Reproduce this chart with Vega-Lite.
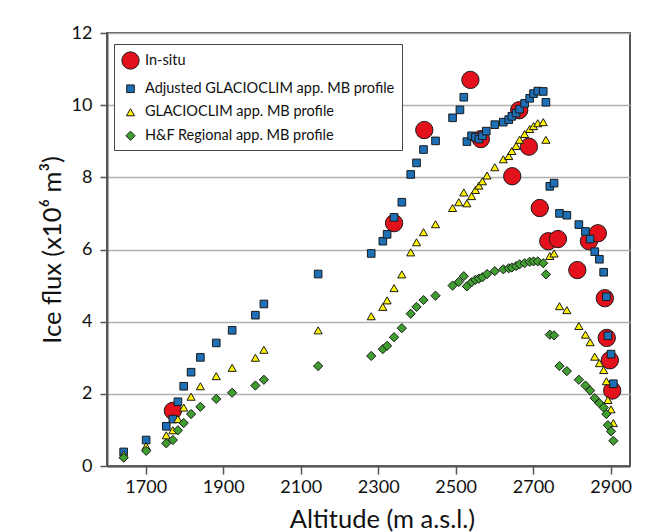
{
  "$schema": "https://vega.github.io/schema/vega-lite/v6.json",
  "autosize": {"type": "none"},
  "padding": {"left": 107, "top": 33, "right": 25, "bottom": 66},
  "width": 523,
  "height": 433,
  "background": "white",
  "config": {
    "font": "Lato",
    "view": {"stroke": "#555555", "strokeWidth": 2},
    "axis": {"labelFont": "Lato", "titleFont": "Lato", "labelColor": "#111111", "titleColor": "#111111", "domainColor": "#555555", "domainWidth": 2, "tickColor": "#555555", "tickWidth": 1.5, "gridColor": "#b0b0b0", "gridWidth": 1.5}
  },
  "data": {
    "values": [
      {"s": "In-situ", "x": 1770, "y": 1.53},
      {"s": "In-situ", "x": 2341, "y": 6.73},
      {"s": "In-situ", "x": 2419, "y": 9.31},
      {"s": "In-situ", "x": 2538, "y": 10.7},
      {"s": "In-situ", "x": 2565, "y": 9.06},
      {"s": "In-situ", "x": 2664, "y": 9.86},
      {"s": "In-situ", "x": 2689, "y": 8.85},
      {"s": "In-situ", "x": 2646, "y": 8.03},
      {"s": "In-situ", "x": 2717, "y": 7.15},
      {"s": "In-situ", "x": 2739, "y": 6.23},
      {"s": "In-situ", "x": 2764, "y": 6.29},
      {"s": "In-situ", "x": 2814, "y": 5.43},
      {"s": "In-situ", "x": 2844, "y": 6.23},
      {"s": "In-situ", "x": 2867, "y": 6.45},
      {"s": "In-situ", "x": 2885, "y": 4.65},
      {"s": "In-situ", "x": 2890, "y": 3.55},
      {"s": "In-situ", "x": 2898, "y": 2.93},
      {"s": "In-situ", "x": 2904, "y": 2.09},

      {"s": "Adjusted GLACIOCLIM app. MB profile", "x": 1643, "y": 0.39},
      {"s": "Adjusted GLACIOCLIM app. MB profile", "x": 1701, "y": 0.72},
      {"s": "Adjusted GLACIOCLIM app. MB profile", "x": 1753, "y": 1.1},
      {"s": "Adjusted GLACIOCLIM app. MB profile", "x": 1770, "y": 1.3},
      {"s": "Adjusted GLACIOCLIM app. MB profile", "x": 1783, "y": 1.78},
      {"s": "Adjusted GLACIOCLIM app. MB profile", "x": 1798, "y": 2.21},
      {"s": "Adjusted GLACIOCLIM app. MB profile", "x": 1817, "y": 2.6},
      {"s": "Adjusted GLACIOCLIM app. MB profile", "x": 1841, "y": 3.01},
      {"s": "Adjusted GLACIOCLIM app. MB profile", "x": 1882, "y": 3.41},
      {"s": "Adjusted GLACIOCLIM app. MB profile", "x": 1923, "y": 3.76},
      {"s": "Adjusted GLACIOCLIM app. MB profile", "x": 1983, "y": 4.18},
      {"s": "Adjusted GLACIOCLIM app. MB profile", "x": 2005, "y": 4.49},
      {"s": "Adjusted GLACIOCLIM app. MB profile", "x": 2145, "y": 5.32},
      {"s": "Adjusted GLACIOCLIM app. MB profile", "x": 2282, "y": 5.89},
      {"s": "Adjusted GLACIOCLIM app. MB profile", "x": 2312, "y": 6.23},
      {"s": "Adjusted GLACIOCLIM app. MB profile", "x": 2323, "y": 6.42},
      {"s": "Adjusted GLACIOCLIM app. MB profile", "x": 2341, "y": 6.89},
      {"s": "Adjusted GLACIOCLIM app. MB profile", "x": 2361, "y": 7.31},
      {"s": "Adjusted GLACIOCLIM app. MB profile", "x": 2384, "y": 8.08},
      {"s": "Adjusted GLACIOCLIM app. MB profile", "x": 2399, "y": 8.4},
      {"s": "Adjusted GLACIOCLIM app. MB profile", "x": 2417, "y": 8.77},
      {"s": "Adjusted GLACIOCLIM app. MB profile", "x": 2448, "y": 9.01},
      {"s": "Adjusted GLACIOCLIM app. MB profile", "x": 2492, "y": 9.65},
      {"s": "Adjusted GLACIOCLIM app. MB profile", "x": 2511, "y": 9.87},
      {"s": "Adjusted GLACIOCLIM app. MB profile", "x": 2521, "y": 10.22},
      {"s": "Adjusted GLACIOCLIM app. MB profile", "x": 2529, "y": 8.99},
      {"s": "Adjusted GLACIOCLIM app. MB profile", "x": 2541, "y": 9.15},
      {"s": "Adjusted GLACIOCLIM app. MB profile", "x": 2551, "y": 9.11},
      {"s": "Adjusted GLACIOCLIM app. MB profile", "x": 2560, "y": 9.06},
      {"s": "Adjusted GLACIOCLIM app. MB profile", "x": 2569, "y": 9.15},
      {"s": "Adjusted GLACIOCLIM app. MB profile", "x": 2579, "y": 9.28},
      {"s": "Adjusted GLACIOCLIM app. MB profile", "x": 2601, "y": 9.46},
      {"s": "Adjusted GLACIOCLIM app. MB profile", "x": 2623, "y": 9.53},
      {"s": "Adjusted GLACIOCLIM app. MB profile", "x": 2637, "y": 9.6},
      {"s": "Adjusted GLACIOCLIM app. MB profile", "x": 2645, "y": 9.69},
      {"s": "Adjusted GLACIOCLIM app. MB profile", "x": 2656, "y": 9.78},
      {"s": "Adjusted GLACIOCLIM app. MB profile", "x": 2665, "y": 9.89},
      {"s": "Adjusted GLACIOCLIM app. MB profile", "x": 2678, "y": 10.05},
      {"s": "Adjusted GLACIOCLIM app. MB profile", "x": 2691, "y": 10.19},
      {"s": "Adjusted GLACIOCLIM app. MB profile", "x": 2701, "y": 10.32},
      {"s": "Adjusted GLACIOCLIM app. MB profile", "x": 2712, "y": 10.39},
      {"s": "Adjusted GLACIOCLIM app. MB profile", "x": 2726, "y": 10.38},
      {"s": "Adjusted GLACIOCLIM app. MB profile", "x": 2733, "y": 10.08},
      {"s": "Adjusted GLACIOCLIM app. MB profile", "x": 2743, "y": 7.75},
      {"s": "Adjusted GLACIOCLIM app. MB profile", "x": 2754, "y": 7.84},
      {"s": "Adjusted GLACIOCLIM app. MB profile", "x": 2768, "y": 7.0},
      {"s": "Adjusted GLACIOCLIM app. MB profile", "x": 2787, "y": 6.95},
      {"s": "Adjusted GLACIOCLIM app. MB profile", "x": 2818, "y": 6.69},
      {"s": "Adjusted GLACIOCLIM app. MB profile", "x": 2835, "y": 6.5},
      {"s": "Adjusted GLACIOCLIM app. MB profile", "x": 2847, "y": 6.29},
      {"s": "Adjusted GLACIOCLIM app. MB profile", "x": 2859, "y": 5.94},
      {"s": "Adjusted GLACIOCLIM app. MB profile", "x": 2871, "y": 5.73},
      {"s": "Adjusted GLACIOCLIM app. MB profile", "x": 2882, "y": 5.37},
      {"s": "Adjusted GLACIOCLIM app. MB profile", "x": 2889, "y": 4.69},
      {"s": "Adjusted GLACIOCLIM app. MB profile", "x": 2893, "y": 3.61},
      {"s": "Adjusted GLACIOCLIM app. MB profile", "x": 2901, "y": 3.1},
      {"s": "Adjusted GLACIOCLIM app. MB profile", "x": 2907, "y": 2.28},

      {"s": "GLACIOCLIM app. MB profile", "x": 1643, "y": 0.32},
      {"s": "GLACIOCLIM app. MB profile", "x": 1701, "y": 0.55},
      {"s": "GLACIOCLIM app. MB profile", "x": 1753, "y": 0.85},
      {"s": "GLACIOCLIM app. MB profile", "x": 1770, "y": 0.99},
      {"s": "GLACIOCLIM app. MB profile", "x": 1783, "y": 1.3},
      {"s": "GLACIOCLIM app. MB profile", "x": 1798, "y": 1.62},
      {"s": "GLACIOCLIM app. MB profile", "x": 1817, "y": 1.92},
      {"s": "GLACIOCLIM app. MB profile", "x": 1841, "y": 2.21},
      {"s": "GLACIOCLIM app. MB profile", "x": 1882, "y": 2.49},
      {"s": "GLACIOCLIM app. MB profile", "x": 1923, "y": 2.72},
      {"s": "GLACIOCLIM app. MB profile", "x": 1983, "y": 3.0},
      {"s": "GLACIOCLIM app. MB profile", "x": 2005, "y": 3.22},
      {"s": "GLACIOCLIM app. MB profile", "x": 2145, "y": 3.76},
      {"s": "GLACIOCLIM app. MB profile", "x": 2282, "y": 4.15},
      {"s": "GLACIOCLIM app. MB profile", "x": 2312, "y": 4.41},
      {"s": "GLACIOCLIM app. MB profile", "x": 2323, "y": 4.59},
      {"s": "GLACIOCLIM app. MB profile", "x": 2341, "y": 4.93},
      {"s": "GLACIOCLIM app. MB profile", "x": 2361, "y": 5.31},
      {"s": "GLACIOCLIM app. MB profile", "x": 2384, "y": 5.92},
      {"s": "GLACIOCLIM app. MB profile", "x": 2399, "y": 6.2},
      {"s": "GLACIOCLIM app. MB profile", "x": 2417, "y": 6.48},
      {"s": "GLACIOCLIM app. MB profile", "x": 2448, "y": 6.7},
      {"s": "GLACIOCLIM app. MB profile", "x": 2492, "y": 7.15},
      {"s": "GLACIOCLIM app. MB profile", "x": 2508, "y": 7.31},
      {"s": "GLACIOCLIM app. MB profile", "x": 2521, "y": 7.58},
      {"s": "GLACIOCLIM app. MB profile", "x": 2529, "y": 7.28},
      {"s": "GLACIOCLIM app. MB profile", "x": 2541, "y": 7.48},
      {"s": "GLACIOCLIM app. MB profile", "x": 2551, "y": 7.65},
      {"s": "GLACIOCLIM app. MB profile", "x": 2560, "y": 7.77},
      {"s": "GLACIOCLIM app. MB profile", "x": 2569, "y": 7.89},
      {"s": "GLACIOCLIM app. MB profile", "x": 2581, "y": 8.05},
      {"s": "GLACIOCLIM app. MB profile", "x": 2601, "y": 8.28},
      {"s": "GLACIOCLIM app. MB profile", "x": 2623, "y": 8.5},
      {"s": "GLACIOCLIM app. MB profile", "x": 2637, "y": 8.59},
      {"s": "GLACIOCLIM app. MB profile", "x": 2645, "y": 8.73},
      {"s": "GLACIOCLIM app. MB profile", "x": 2656, "y": 8.87},
      {"s": "GLACIOCLIM app. MB profile", "x": 2665, "y": 9.04},
      {"s": "GLACIOCLIM app. MB profile", "x": 2678, "y": 9.2},
      {"s": "GLACIOCLIM app. MB profile", "x": 2691, "y": 9.34},
      {"s": "GLACIOCLIM app. MB profile", "x": 2701, "y": 9.42},
      {"s": "GLACIOCLIM app. MB profile", "x": 2712, "y": 9.5},
      {"s": "GLACIOCLIM app. MB profile", "x": 2726, "y": 9.53},
      {"s": "GLACIOCLIM app. MB profile", "x": 2733, "y": 9.04},
      {"s": "GLACIOCLIM app. MB profile", "x": 2743, "y": 5.82},
      {"s": "GLACIOCLIM app. MB profile", "x": 2754, "y": 5.89},
      {"s": "GLACIOCLIM app. MB profile", "x": 2768, "y": 4.43},
      {"s": "GLACIOCLIM app. MB profile", "x": 2787, "y": 4.32},
      {"s": "GLACIOCLIM app. MB profile", "x": 2818, "y": 3.88},
      {"s": "GLACIOCLIM app. MB profile", "x": 2835, "y": 3.64},
      {"s": "GLACIOCLIM app. MB profile", "x": 2847, "y": 3.43},
      {"s": "GLACIOCLIM app. MB profile", "x": 2859, "y": 3.03},
      {"s": "GLACIOCLIM app. MB profile", "x": 2871, "y": 2.85},
      {"s": "GLACIOCLIM app. MB profile", "x": 2882, "y": 2.66},
      {"s": "GLACIOCLIM app. MB profile", "x": 2889, "y": 2.35},
      {"s": "GLACIOCLIM app. MB profile", "x": 2893, "y": 1.83},
      {"s": "GLACIOCLIM app. MB profile", "x": 2901, "y": 1.57},
      {"s": "GLACIOCLIM app. MB profile", "x": 2907, "y": 1.19},

      {"s": "H&F Regional app. MB profile", "x": 1643, "y": 0.23},
      {"s": "H&F Regional app. MB profile", "x": 1701, "y": 0.42},
      {"s": "H&F Regional app. MB profile", "x": 1753, "y": 0.63},
      {"s": "H&F Regional app. MB profile", "x": 1770, "y": 0.72},
      {"s": "H&F Regional app. MB profile", "x": 1783, "y": 0.99},
      {"s": "H&F Regional app. MB profile", "x": 1798, "y": 1.19},
      {"s": "H&F Regional app. MB profile", "x": 1817, "y": 1.44},
      {"s": "H&F Regional app. MB profile", "x": 1841, "y": 1.64},
      {"s": "H&F Regional app. MB profile", "x": 1882, "y": 1.86},
      {"s": "H&F Regional app. MB profile", "x": 1923, "y": 2.03},
      {"s": "H&F Regional app. MB profile", "x": 1983, "y": 2.23},
      {"s": "H&F Regional app. MB profile", "x": 2005, "y": 2.39},
      {"s": "H&F Regional app. MB profile", "x": 2145, "y": 2.77},
      {"s": "H&F Regional app. MB profile", "x": 2282, "y": 3.05},
      {"s": "H&F Regional app. MB profile", "x": 2312, "y": 3.24},
      {"s": "H&F Regional app. MB profile", "x": 2323, "y": 3.33},
      {"s": "H&F Regional app. MB profile", "x": 2341, "y": 3.57},
      {"s": "H&F Regional app. MB profile", "x": 2361, "y": 3.82},
      {"s": "H&F Regional app. MB profile", "x": 2384, "y": 4.22},
      {"s": "H&F Regional app. MB profile", "x": 2399, "y": 4.41},
      {"s": "H&F Regional app. MB profile", "x": 2417, "y": 4.6},
      {"s": "H&F Regional app. MB profile", "x": 2448, "y": 4.72},
      {"s": "H&F Regional app. MB profile", "x": 2492, "y": 5.0},
      {"s": "H&F Regional app. MB profile", "x": 2508, "y": 5.1},
      {"s": "H&F Regional app. MB profile", "x": 2521, "y": 5.26},
      {"s": "H&F Regional app. MB profile", "x": 2529, "y": 4.98},
      {"s": "H&F Regional app. MB profile", "x": 2541, "y": 5.09},
      {"s": "H&F Regional app. MB profile", "x": 2551, "y": 5.16},
      {"s": "H&F Regional app. MB profile", "x": 2560, "y": 5.19},
      {"s": "H&F Regional app. MB profile", "x": 2569, "y": 5.23},
      {"s": "H&F Regional app. MB profile", "x": 2581, "y": 5.32},
      {"s": "H&F Regional app. MB profile", "x": 2601, "y": 5.4},
      {"s": "H&F Regional app. MB profile", "x": 2623, "y": 5.45},
      {"s": "H&F Regional app. MB profile", "x": 2637, "y": 5.48},
      {"s": "H&F Regional app. MB profile", "x": 2645, "y": 5.5},
      {"s": "H&F Regional app. MB profile", "x": 2656, "y": 5.54},
      {"s": "H&F Regional app. MB profile", "x": 2665, "y": 5.59},
      {"s": "H&F Regional app. MB profile", "x": 2678, "y": 5.62},
      {"s": "H&F Regional app. MB profile", "x": 2691, "y": 5.66},
      {"s": "H&F Regional app. MB profile", "x": 2701, "y": 5.67},
      {"s": "H&F Regional app. MB profile", "x": 2712, "y": 5.67},
      {"s": "H&F Regional app. MB profile", "x": 2726, "y": 5.62},
      {"s": "H&F Regional app. MB profile", "x": 2733, "y": 5.31},
      {"s": "H&F Regional app. MB profile", "x": 2743, "y": 3.64},
      {"s": "H&F Regional app. MB profile", "x": 2754, "y": 3.62},
      {"s": "H&F Regional app. MB profile", "x": 2768, "y": 2.77},
      {"s": "H&F Regional app. MB profile", "x": 2787, "y": 2.63},
      {"s": "H&F Regional app. MB profile", "x": 2818, "y": 2.39},
      {"s": "H&F Regional app. MB profile", "x": 2835, "y": 2.23},
      {"s": "H&F Regional app. MB profile", "x": 2847, "y": 2.09},
      {"s": "H&F Regional app. MB profile", "x": 2859, "y": 1.88},
      {"s": "H&F Regional app. MB profile", "x": 2871, "y": 1.74},
      {"s": "H&F Regional app. MB profile", "x": 2882, "y": 1.62},
      {"s": "H&F Regional app. MB profile", "x": 2889, "y": 1.44},
      {"s": "H&F Regional app. MB profile", "x": 2893, "y": 1.13},
      {"s": "H&F Regional app. MB profile", "x": 2901, "y": 0.96},
      {"s": "H&F Regional app. MB profile", "x": 2907, "y": 0.7}
    ]
  },
  "mark": {"type": "point", "filled": true, "opacity": 1, "stroke": "#1a1a1a", "strokeWidth": 1},
  "encoding": {
    "x": {
      "field": "x", "type": "quantitative",
      "scale": {"domain": [1600, 2950], "nice": false, "zero": false},
      "axis": {"values": [1700, 1900, 2100, 2300, 2500, 2700, 2900], "format": "d", "grid": false, "tickSize": 8, "labelFontSize": 18, "labelPadding": 4, "title": "Altitude (m a.s.l.)", "titleFontSize": 25.5, "titleFontWeight": "normal", "titleBaseline": "alphabetic", "titleX": 275, "titleY": 61}
    },
    "y": {
      "field": "y", "type": "quantitative",
      "scale": {"domain": [0, 12], "nice": false},
      "axis": {"values": [0, 2, 4, 6, 8, 10, 12], "grid": true, "tickSize": 7, "labelFontSize": 18, "labelPadding": 8, "title": "Ice flux (x10⁶ m³)", "titleFontSize": 25.5, "titleFontWeight": "normal", "titleX": -42}
    },
    "color": {
      "field": "s", "type": "nominal",
      "scale": {"domain": ["In-situ", "Adjusted GLACIOCLIM app. MB profile", "GLACIOCLIM app. MB profile", "H&F Regional app. MB profile"], "range": ["#e3111b", "#1d6fb6", "#fff200", "#3f9e2f"]},
      "legend": {
        "title": null, "orient": "none", "legendX": 7, "legendY": 11,
        "labelFont": "Lato", "labelFontSize": 14.5, "labelColor": "#111111", "labelLimit": 500,
        "strokeColor": "#444444", "fillColor": "white", "padding": 7, "rowPadding": 8.5,
        "symbolStrokeColor": "#1a1a1a", "symbolStrokeWidth": 1, "labelOffset": 5,
        "encode": {
          "legend": {"update": {"strokeWidth": {"value": 2}}},
          "symbols": {"update": {"size": {"signal": "datum.value === 'In-situ' ? 190 : (datum.value === 'GLACIOCLIM app. MB profile' ? 110 : 90)"}}}
        }
      }
    },
    "shape": {
      "field": "s", "type": "nominal",
      "scale": {"domain": ["In-situ", "Adjusted GLACIOCLIM app. MB profile", "GLACIOCLIM app. MB profile", "H&F Regional app. MB profile"], "range": ["circle", "square", "triangle-up", "diamond"]}
    },
    "size": {
      "field": "s", "type": "nominal",
      "scale": {"type": "ordinal", "domain": ["In-situ", "Adjusted GLACIOCLIM app. MB profile", "GLACIOCLIM app. MB profile", "H&F Regional app. MB profile"], "range": [300, 58, 66, 85]}
    }
  }
}
